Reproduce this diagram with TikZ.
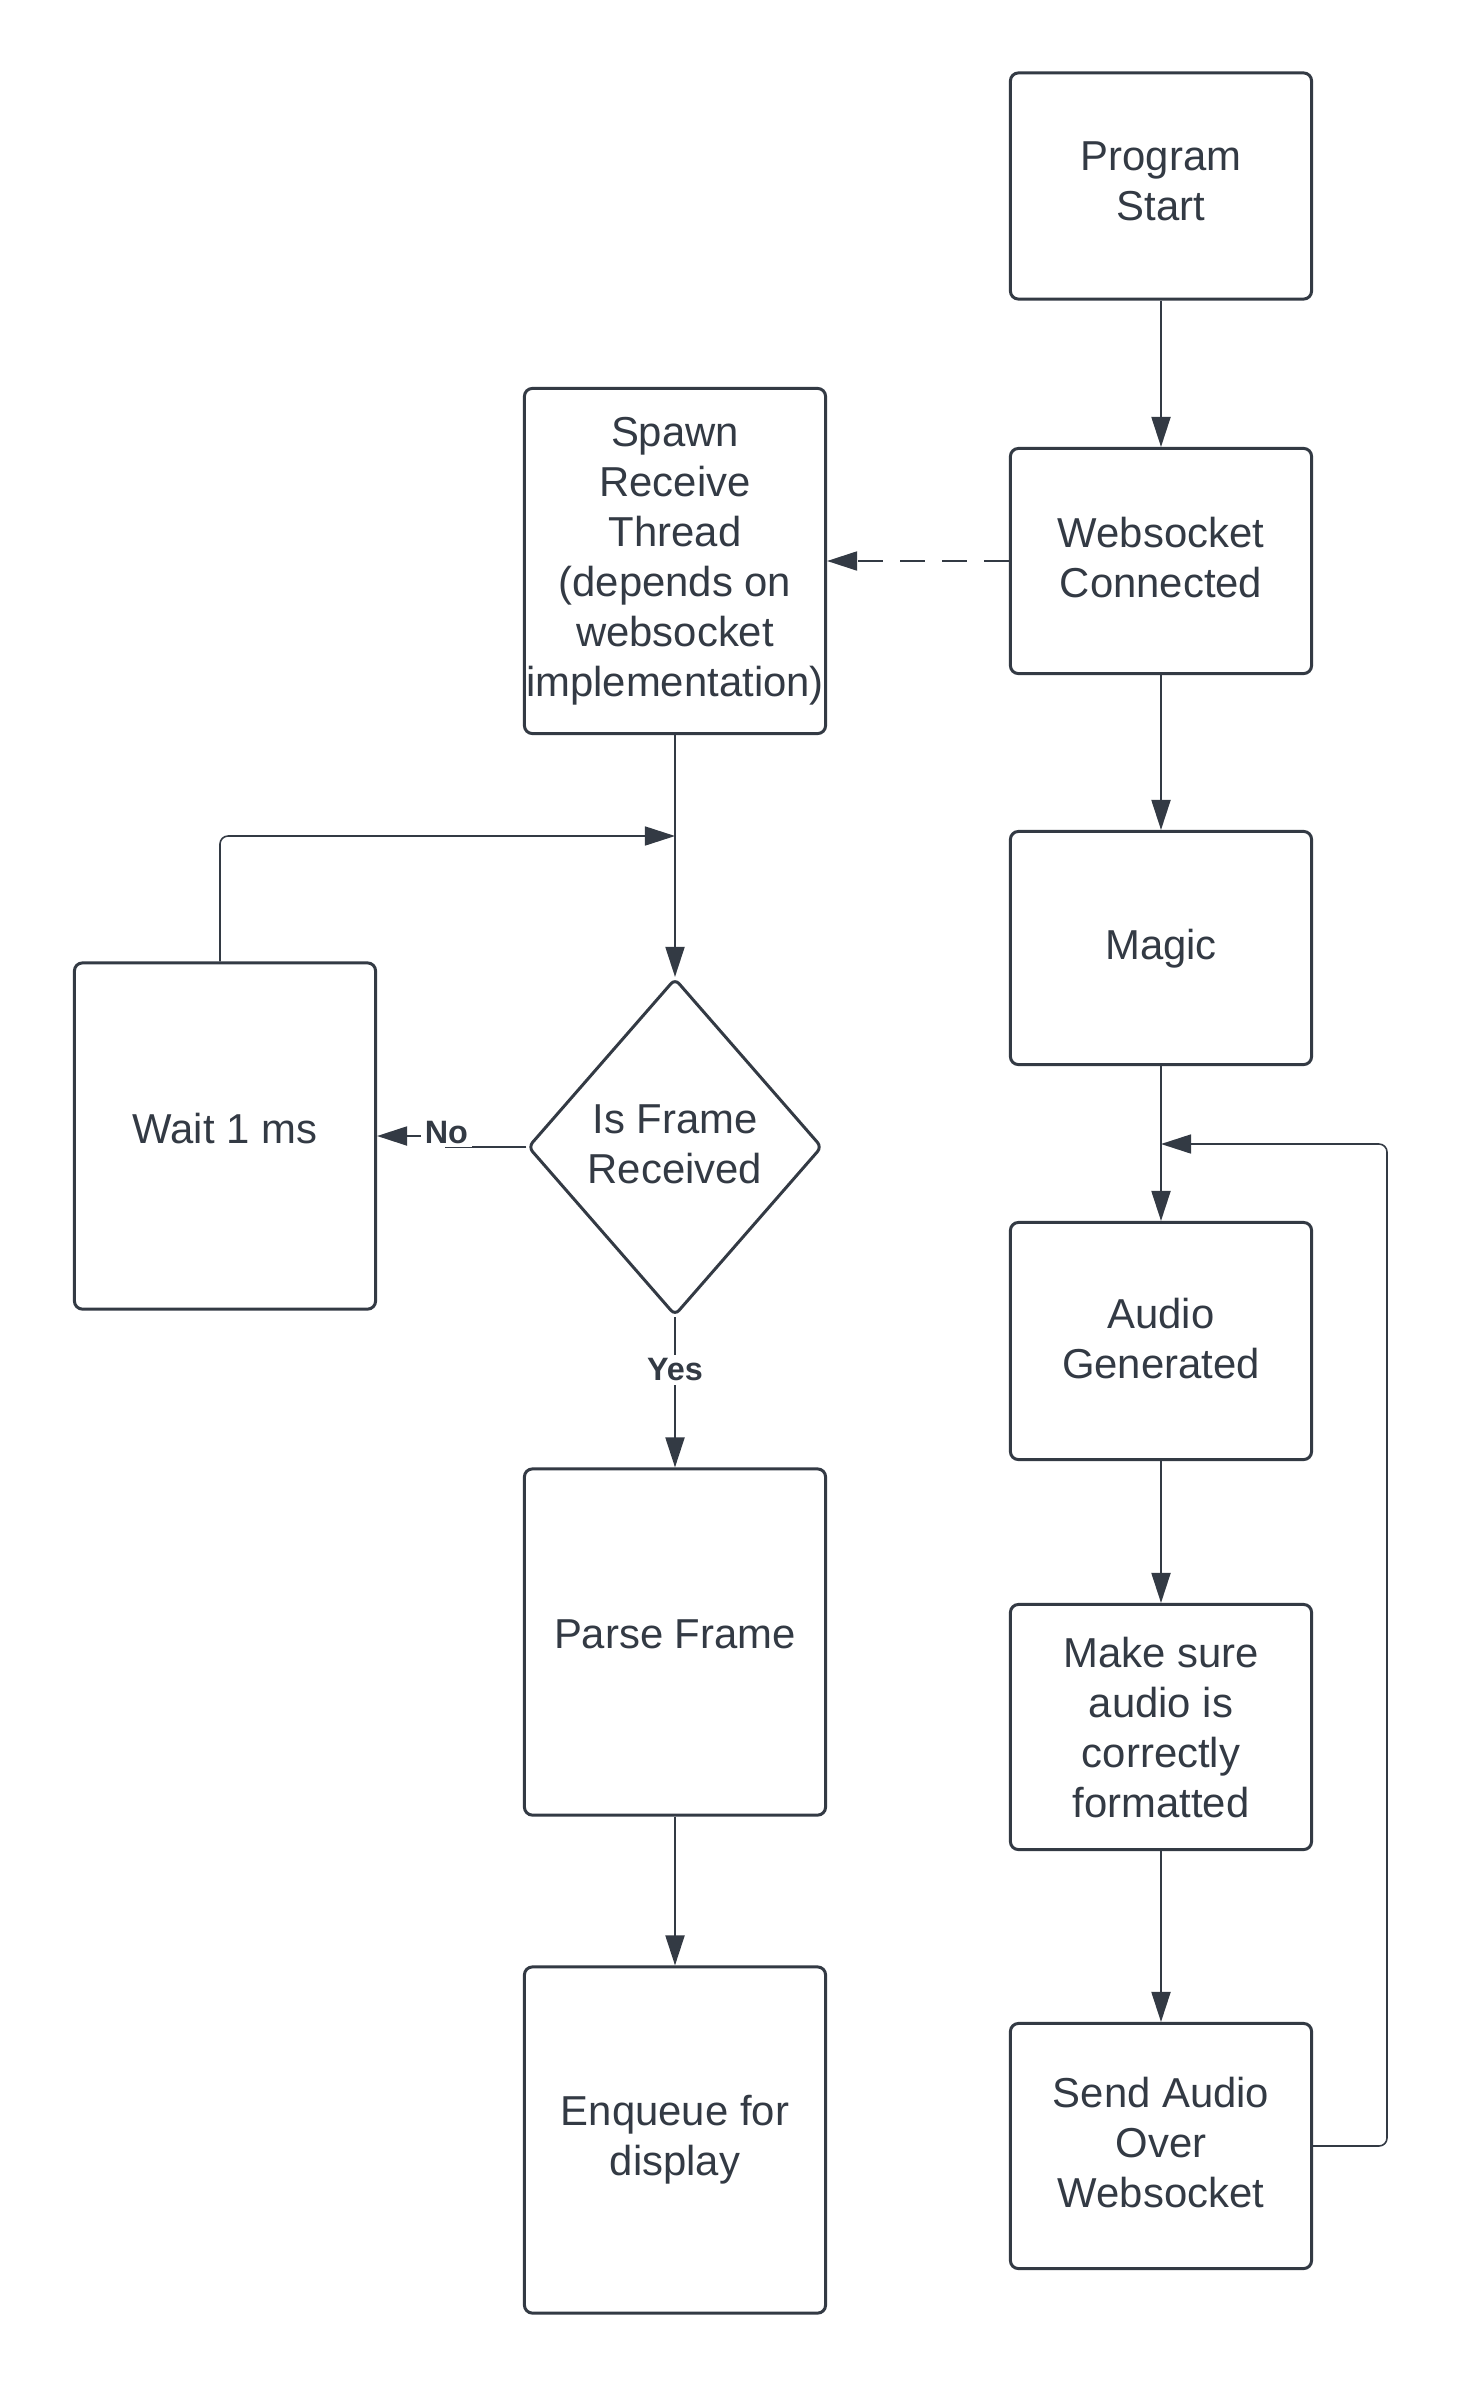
\documentclass[tikz,border=0pt]{standalone}
\usepackage{fontspec}
\setmainfont{Liberation Sans}
\usetikzlibrary{arrows.meta,shapes.geometric}
\definecolor{ink}{RGB}{51,58,68}

\begin{document}
\begin{tikzpicture}[x=0.01cm, y=-0.01cm,
        box/.style={draw=ink, line width=0.85pt, rounded corners=0.08cm, minimum width=3.01cm,
            inner sep=0pt, align=center, text=ink, text depth=0.22em, font=\fontsize{11.9}{14.2}\selectfont},
        decision/.style={diamond, draw=ink, line width=0.85pt, rounded corners=0.06cm, aspect=0.87,
            minimum width=2.94cm, minimum height=3.37cm, inner sep=0pt, align=center, text=ink,
            text depth=0.15em, font=\fontsize{11.9}{14.2}\selectfont},
        flow/.style={draw=ink, line width=0.55pt, -{Triangle[length=0.3cm, width=0.19cm]}},
        thinflow/.style={flow, line width=0.45pt, rounded corners=0.08cm},
        lbl/.style={fill=white, text=ink, inner sep=1pt, font=\fontsize{9.2}{11}\selectfont\bfseries}]
        \fill[white] (0, 0) rectangle (1463, 2385);
        \useasboundingbox (0, 0) rectangle (1463, 2385);

        % main column
        \node[box, minimum height=2.26cm, text depth=0.29em] (start) at (1161, 186) {Program\\Start};
        \node[box, minimum height=2.25cm] (wsconn) at (1161, 561) {Websocket\\Connected};
        \node[box, minimum height=2.33cm] (magic) at (1161, 948) {Magic};
        \node[box, minimum height=2.37cm, text depth=0.15em] (audiogen) at (1161, 1341) {Audio\\Generated};
        \node[box, minimum height=2.45cm, text depth=0em] (fmt) at (1161, 1727) {Make sure\\audio is\\correctly\\formatted};
        \node[box, minimum height=2.45cm] (send) at (1161, 2146) {Send Audio\\Over\\Websocket};

        % receive thread
        \node[box, minimum height=3.45cm] (spawn) at (675, 561) {Spawn\\Receive\\Thread\\(depends on\\websocket\\implementation)};
        \node[decision] (frame) at (675, 1147) {Is Frame\\Received};
        \node[box, minimum height=3.46cm, text depth=0.43em] (wait) at (225, 1136) {Wait 1 ms};
        \node[box, minimum height=3.46cm, text depth=0.43em] (parse) at (675, 1642) {Parse Frame};
        \node[box, minimum height=3.46cm, text depth=0.28em] (enqueue) at (675, 2140) {Enqueue for\\display};

        \coordinate (loopjoin) at (675, 836);
        \coordinate (backjoin) at (1161, 1144);
        \coordinate (backtop) at (1387, 1144);

        \draw[flow] (start) -- (wsconn);
        \draw[flow] (wsconn) -- (magic);
        \draw[flow] (magic) -- (audiogen);
        \draw[flow] (audiogen) -- (fmt);
        \draw[flow] (fmt) -- (send);
        \draw[flow, dash pattern=on 0.25cm off 0.17cm] (wsconn.west) -- (spawn.east);

        \draw[flow] (spawn) -- (frame);
        \draw[flow] (frame.south) -- node[lbl, pos=0.35] (yes) {Yes} (parse.north);
        \draw[flow] (frame.west) -- ++(-80, 0) node[lbl, yshift=0.145cm] (no) {No} |- (wait.east);
        \draw[flow] (parse) -- (enqueue);

        %\draw (wait.north) -- (loopjoin);
        \draw[thinflow] ([xshift=-0.05cm]wait.north) |- (loopjoin);
        \draw[thinflow] (send.east) -| (backtop) -- (backjoin);
    \end{tikzpicture}
\end{document}
